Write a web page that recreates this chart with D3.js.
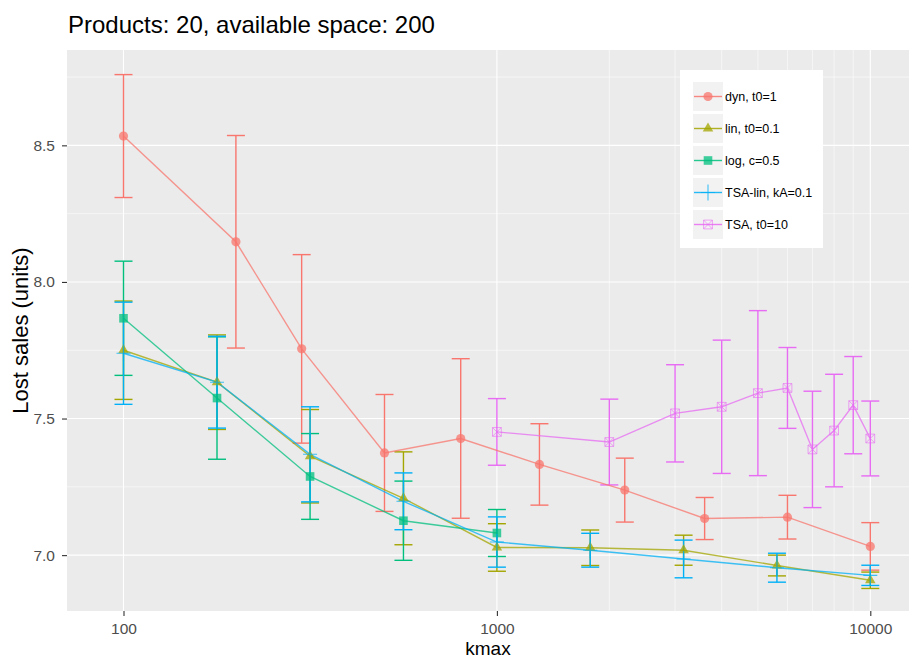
<!DOCTYPE html>
<html>
<head>
<meta charset="utf-8">
<script src="https://cdnjs.cloudflare.com/ajax/libs/d3/7.8.5/d3.min.js"></script>
<style>
  html, body { margin: 0; padding: 0; background: #fff; }
  svg { display: block; font-family: "Liberation Sans", Arial, sans-serif; }
</style>
</head>
<body>
<svg id="chart" width="915" height="659"></svg>
<script>
// ---- data ----------------------------------------------------------------
const seriesNames = ["dyn, t0=1", "lin, t0=0.1", "log, c=0.5", "TSA-lin, kA=0.1", "TSA, t0=10"];
const seriesColors = ["#F8766D", "#A3A500", "#00BF7D", "#00B0F6", "#E76BF3"];

const dynK    = [100, 200, 300, 500, 800, 1300, 2200, 3600, 6000, 10000];
const dynMean = [8.534, 8.147, 7.755, 7.374, 7.427, 7.332, 7.238, 7.134, 7.139, 7.032];
const dynLow  = [8.309, 7.758, 7.410, 7.160, 7.135, 7.183, 7.121, 7.057, 7.059, 6.945];
const dynHigh = [8.759, 8.536, 8.100, 7.588, 7.719, 7.481, 7.355, 7.211, 7.219, 7.119];

const linK    = [100, 178, 316, 562, 1000, 1778, 3162, 5623, 10000];
const linMean = [7.750, 7.633, 7.362, 7.208, 7.028, 7.027, 7.018, 6.962, 6.908];
const linLow  = [7.570, 7.460, 7.191, 7.038, 6.941, 6.962, 6.963, 6.924, 6.878];
const linHigh = [7.930, 7.806, 7.533, 7.378, 7.115, 7.092, 7.073, 7.000, 6.938];

const logK    = [100, 178, 316, 562, 1000];
const logMean = [7.867, 7.575, 7.288, 7.126, 7.081];
const logLow  = [7.658, 7.351, 7.131, 6.981, 6.995];
const logHigh = [8.076, 7.799, 7.445, 7.271, 7.167];

const tsaLinK    = [100, 178, 316, 562, 1000, 1778, 3162, 5623, 10000];
const tsaLinMean = [7.739, 7.633, 7.369, 7.197, 7.048, 7.018, 6.986, 6.954, 6.926];
const tsaLinLow  = [7.552, 7.465, 7.195, 7.093, 6.956, 6.956, 6.917, 6.901, 6.889];
const tsaLinHigh = [7.926, 7.801, 7.543, 7.301, 7.140, 7.080, 7.055, 7.007, 6.963];

const tsaK    = [1000, 2000, 3000, 4000, 5000, 6000, 7000, 8000, 9000, 10000];
const tsaMean = [7.451, 7.414, 7.519, 7.543, 7.593, 7.612, 7.387, 7.456, 7.549, 7.427];
const tsaLow  = [7.329, 7.257, 7.341, 7.299, 7.291, 7.464, 7.174, 7.250, 7.371, 7.290];
const tsaHigh = [7.573, 7.571, 7.697, 7.787, 7.895, 7.760, 7.600, 7.662, 7.727, 7.564];

const xTicks = [100, 1000, 10000];
const xMinorTicks = [2000, 3000, 4000, 5000, 6000, 7000, 8000, 9000];
const yTicks = [7.0, 7.5, 8.0, 8.5];
const yMinorTicks = [6.75, 7.25, 7.75, 8.25, 8.75];

const titleText = "Products: 20, available space: 200";
const xTitle = "kmax";
const yTitle = "Lost sales (units)";

// ---- assemble series -----------------------------------------------------
const rawSeries = [
  [dynK, dynMean, dynLow, dynHigh],
  [linK, linMean, linLow, linHigh],
  [logK, logMean, logLow, logHigh],
  [tsaLinK, tsaLinMean, tsaLinLow, tsaLinHigh],
  [tsaK, tsaMean, tsaLow, tsaHigh]
];
const series = rawSeries.map((s, i) => ({
  name: seriesNames[i],
  color: seriesColors[i],
  idx: i,
  pts: s[0].map((k, j) => ({ k, mean: s[1][j], lo: s[2][j], hi: s[3][j] }))
}));

// ---- layout --------------------------------------------------------------
const svg = d3.select("#chart");
const panel = { left: 67, top: 50, right: 909, bottom: 611 };
const FONT = "Liberation Sans, Arial, sans-serif";

const x = d3.scaleLog()
  .domain([10 ** ((panel.left - 123.5) / 373.4 + 2), 10 ** ((panel.right - 123.5) / 373.4 + 2)])
  .range([panel.left, panel.right]);
const y = d3.scaleLinear()
  .domain([6.7955, 8.849])
  .range([panel.bottom, panel.top]);

// panel background
svg.append("rect")
  .attr("x", panel.left).attr("y", panel.top)
  .attr("width", panel.right - panel.left).attr("height", panel.bottom - panel.top)
  .attr("fill", "#EBEBEB");

const grid = svg.append("g");
// minor grid
grid.selectAll("line.ymin").data(yMinorTicks.filter(v => y(v) > panel.top && y(v) < panel.bottom))
  .join("line")
  .attr("x1", panel.left).attr("x2", panel.right)
  .attr("y1", d => y(d)).attr("y2", d => y(d))
  .attr("stroke", "#fff").attr("stroke-width", 0.55);
grid.selectAll("line.xmin").data(xMinorTicks)
  .join("line")
  .attr("y1", panel.top).attr("y2", panel.bottom)
  .attr("x1", d => x(d)).attr("x2", d => x(d))
  .attr("stroke", "#fff").attr("stroke-width", 0.55);
// major grid
grid.selectAll("line.ymaj").data(yTicks)
  .join("line")
  .attr("x1", panel.left).attr("x2", panel.right)
  .attr("y1", d => y(d)).attr("y2", d => y(d))
  .attr("stroke", "#fff").attr("stroke-width", 1.1);
grid.selectAll("line.xmaj").data(xTicks)
  .join("line")
  .attr("y1", panel.top).attr("y2", panel.bottom)
  .attr("x1", d => x(d)).attr("x2", d => x(d))
  .attr("stroke", "#fff").attr("stroke-width", 1.1);

// ---- axes ----------------------------------------------------------------
const xAxis = d3.axisBottom(x).tickValues(xTicks).tickFormat(d3.format("d")).tickSize(5).tickPadding(7);
const gx = svg.append("g").attr("transform", `translate(0,${panel.bottom})`).call(xAxis);
gx.select(".domain").remove();
gx.selectAll(".tick line").attr("stroke", "#333").attr("stroke-width", 1.1);
gx.selectAll(".tick text").attr("fill", "#4D4D4D").attr("font-size", 15.5).attr("font-family", FONT);

const yAxis = d3.axisLeft(y).tickValues(yTicks).tickFormat(d3.format(".1f")).tickSize(5).tickPadding(7);
const gy = svg.append("g").attr("transform", `translate(${panel.left},0)`).call(yAxis);
gy.select(".domain").remove();
gy.selectAll(".tick line").attr("stroke", "#333").attr("stroke-width", 1.1);
gy.selectAll(".tick text").attr("fill", "#4D4D4D").attr("font-size", 15.5).attr("font-family", FONT);

// titles
svg.append("text")
  .attr("x", panel.left + 1).attr("y", 33)
  .attr("font-size", 24).attr("fill", "#000")
  .text(titleText);
svg.append("text")
  .attr("x", (panel.left + panel.right) / 2).attr("y", 655)
  .attr("text-anchor", "middle").attr("font-size", 19).attr("fill", "#000")
  .text(xTitle);
svg.append("text")
  .attr("transform", `translate(28,${(panel.top + panel.bottom) / 2}) rotate(-90)`)
  .attr("text-anchor", "middle").attr("font-size", 22).attr("fill", "#000")
  .text(yTitle);

// ---- marks ---------------------------------------------------------------
const plot = svg.append("g");
const capHalf = 9;

// error bars
series.forEach(s => {
  const g = plot.append("g").attr("stroke", s.color).attr("stroke-width", 1.4).attr("fill", "none");
  g.selectAll("line.v").data(s.pts).join("line")
    .attr("x1", d => x(d.k)).attr("x2", d => x(d.k))
    .attr("y1", d => y(d.lo)).attr("y2", d => y(d.hi));
  g.selectAll("line.lo").data(s.pts).join("line")
    .attr("x1", d => x(d.k) - capHalf).attr("x2", d => x(d.k) + capHalf)
    .attr("y1", d => y(d.lo)).attr("y2", d => y(d.lo));
  g.selectAll("line.hi").data(s.pts).join("line")
    .attr("x1", d => x(d.k) - capHalf).attr("x2", d => x(d.k) + capHalf)
    .attr("y1", d => y(d.hi)).attr("y2", d => y(d.hi));
});

// connecting lines
const line = d3.line().x(d => x(d.k)).y(d => y(d.mean));
series.forEach(s => {
  plot.append("path").datum(s.pts)
    .attr("d", line)
    .attr("fill", "none").attr("stroke", s.color)
    .attr("stroke-opacity", 0.75).attr("stroke-width", 1.4);
});

// point shapes
function drawShape(g, idx, color, cx, cy) {
  if (idx === 0) {
    g.append("circle").attr("cx", cx).attr("cy", cy).attr("r", 4.6)
      .attr("fill", color).attr("fill-opacity", 0.75);
  } else if (idx === 1) {
    g.append("path").attr("d", d3.symbol(d3.symbolTriangle, 48)())
      .attr("transform", `translate(${cx},${cy})`)
      .attr("fill", color).attr("fill-opacity", 0.75);
  } else if (idx === 2) {
    g.append("rect").attr("x", cx - 4.3).attr("y", cy - 4.3).attr("width", 8.6).attr("height", 8.6)
      .attr("fill", color).attr("fill-opacity", 0.75);
  } else if (idx === 3) {
    g.append("path").attr("d", `M${cx - 7},${cy}H${cx + 7}M${cx},${cy - 8}V${cy + 8}`)
      .attr("stroke", color).attr("stroke-opacity", 0.75).attr("stroke-width", 1.1);
  } else {
    const r = 4.4;
    g.append("path")
      .attr("d", `M${cx - r},${cy - r}H${cx + r}V${cy + r}H${cx - r}Z M${cx - r},${cy - r}L${cx + r},${cy + r}M${cx + r},${cy - r}L${cx - r},${cy + r}`)
      .attr("fill", "none").attr("stroke", color).attr("stroke-opacity", 0.6).attr("stroke-width", 1);
  }
}
series.forEach(s => {
  const g = plot.append("g");
  s.pts.forEach(d => drawShape(g, s.idx, s.color, x(d.k), y(d.mean)));
});

// ---- legend --------------------------------------------------------------
const lg = svg.append("g").attr("transform", "translate(680,70)");
lg.append("rect").attr("width", 143).attr("height", 178).attr("fill", "#fff");
series.forEach((s, i) => {
  const cy = 26.5 + i * 32;
  lg.append("rect").attr("x", 13).attr("y", cy - 14.5).attr("width", 30).attr("height", 29)
    .attr("fill", "#F2F2F2");
  lg.append("line").attr("x1", 14).attr("x2", 42).attr("y1", cy).attr("y2", cy)
    .attr("stroke", s.color).attr("stroke-width", 1.4).attr("stroke-opacity", 0.85);
  drawShape(lg, s.idx, s.color, 28, cy);
  lg.append("text").attr("x", 45).attr("y", cy + 4.5)
    .attr("font-size", 12.5).attr("fill", "#000").attr("font-family", FONT).text(s.name);
});
</script>
</body>
</html>
